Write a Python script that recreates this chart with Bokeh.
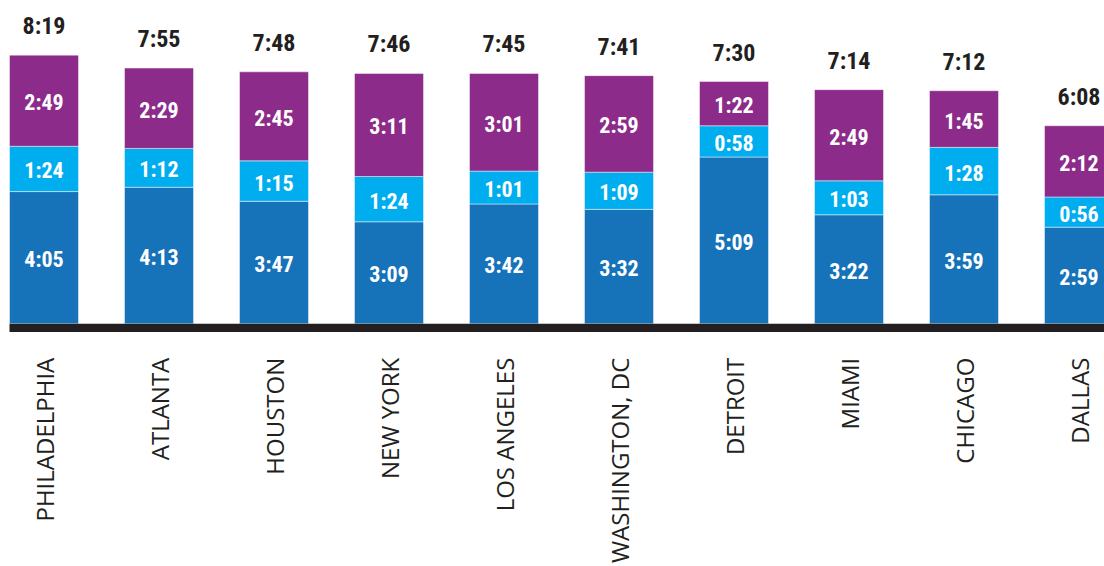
from bokeh.plotting import figure
from bokeh.models import ColumnDataSource, Range1d, BoxAnnotation
from bokeh.core.properties import value
from bokeh.embed import file_html
from bokeh.resources import INLINE
import math

# Daily time spent (minutes) per metro area, split into three activity groups
cities = ["PHILADELPHIA", "ATLANTA", "HOUSTON", "NEW YORK", "LOS ANGELES",
          "WASHINGTON, DC", "DETROIT", "MIAMI", "CHICAGO", "DALLAS"]
base_minutes = [245, 253, 227, 189, 222, 212, 309, 202, 239, 179]
middle_minutes = [84, 72, 75, 84, 61, 69, 58, 63, 88, 56]
top_minutes = [169, 149, 165, 191, 181, 179, 82, 169, 105, 132]
total_minutes = [499, 475, 468, 466, 465, 461, 450, 434, 432, 368]

COL_BASE = "#1673BA"
COL_MID = "#00AEEF"
COL_TOP = "#8C2B8A"
INK = "#231F20"
BAR_W = 0.6


def hm(m):
    return f"{m // 60}:{m % 60:02d}"


x = list(range(len(cities)))
b0 = [0] * len(x)
b1 = base_minutes
b2 = [a + b for a, b in zip(base_minutes, middle_minutes)]
b3 = [a + b for a, b in zip(b2, top_minutes)]

src = ColumnDataSource(dict(
    x=x, city=cities,
    b0=b0, b1=b1, b2=b2, b3=b3,
    m1=[(a + b) / 2 for a, b in zip(b0, b1)],
    m2=[(a + b) / 2 for a, b in zip(b1, b2)],
    m3=[(a + b) / 2 for a, b in zip(b2, b3)],
    l1=[hm(v) for v in base_minutes],
    l2=[hm(v) for v in middle_minutes],
    l3=[hm(v) for v in top_minutes],
    lt=[hm(v) for v in total_minutes],
))

p = figure(width=1104, height=566,
           x_range=Range1d(-0.3783, 9.2217),
           y_range=Range1d(-450.2, 599.3),
           toolbar_location=None, output_backend="svg", min_border=0)
p.axis.visible = False
p.grid.visible = False
p.outline_line_color = None
p.background_fill_color = "white"
p.border_fill_color = "white"

seg_line = dict(line_color="white", line_alpha=0.45, line_width=1)
p.vbar(x="x", bottom="b0", top="b1", width=BAR_W, fill_color=COL_BASE, source=src, **seg_line)
p.vbar(x="x", bottom="b1", top="b2", width=BAR_W, fill_color=COL_MID, source=src, **seg_line)
p.vbar(x="x", bottom="b2", top="b3", width=BAR_W, fill_color=COL_TOP, source=src, **seg_line)

# baseline under the bars
p.add_layout(BoxAnnotation(top=0, bottom=-15.6, left=-BAR_W / 2,
                           fill_color=INK, fill_alpha=1, line_color=None))

num_font = value("'Roboto Condensed', Roboto, sans-serif")
for mid, lab in (("m1", "l1"), ("m2", "l2"), ("m3", "l3")):
    p.text(x="x", y=mid, text=lab, source=src, text_font=num_font,
           text_font_style="bold", text_font_size="22px", text_color="white",
           text_align="center", text_baseline="middle", y_offset=2)

p.text(x="x", y="b3", text="lt", source=src, text_font=num_font,
       text_font_style="bold", text_font_size="24px", text_color=INK,
       text_align="center", text_baseline="middle", y_offset=-29)

p.text(x="x", y="b0", text="city", source=src, text_font=value("Open Sans"),
       text_font_size="24px", text_color=INK, angle=math.pi / 2,
       text_align="right", text_baseline="middle", y_offset=34)

open("out.html", "w").write(file_html(p, INLINE))
